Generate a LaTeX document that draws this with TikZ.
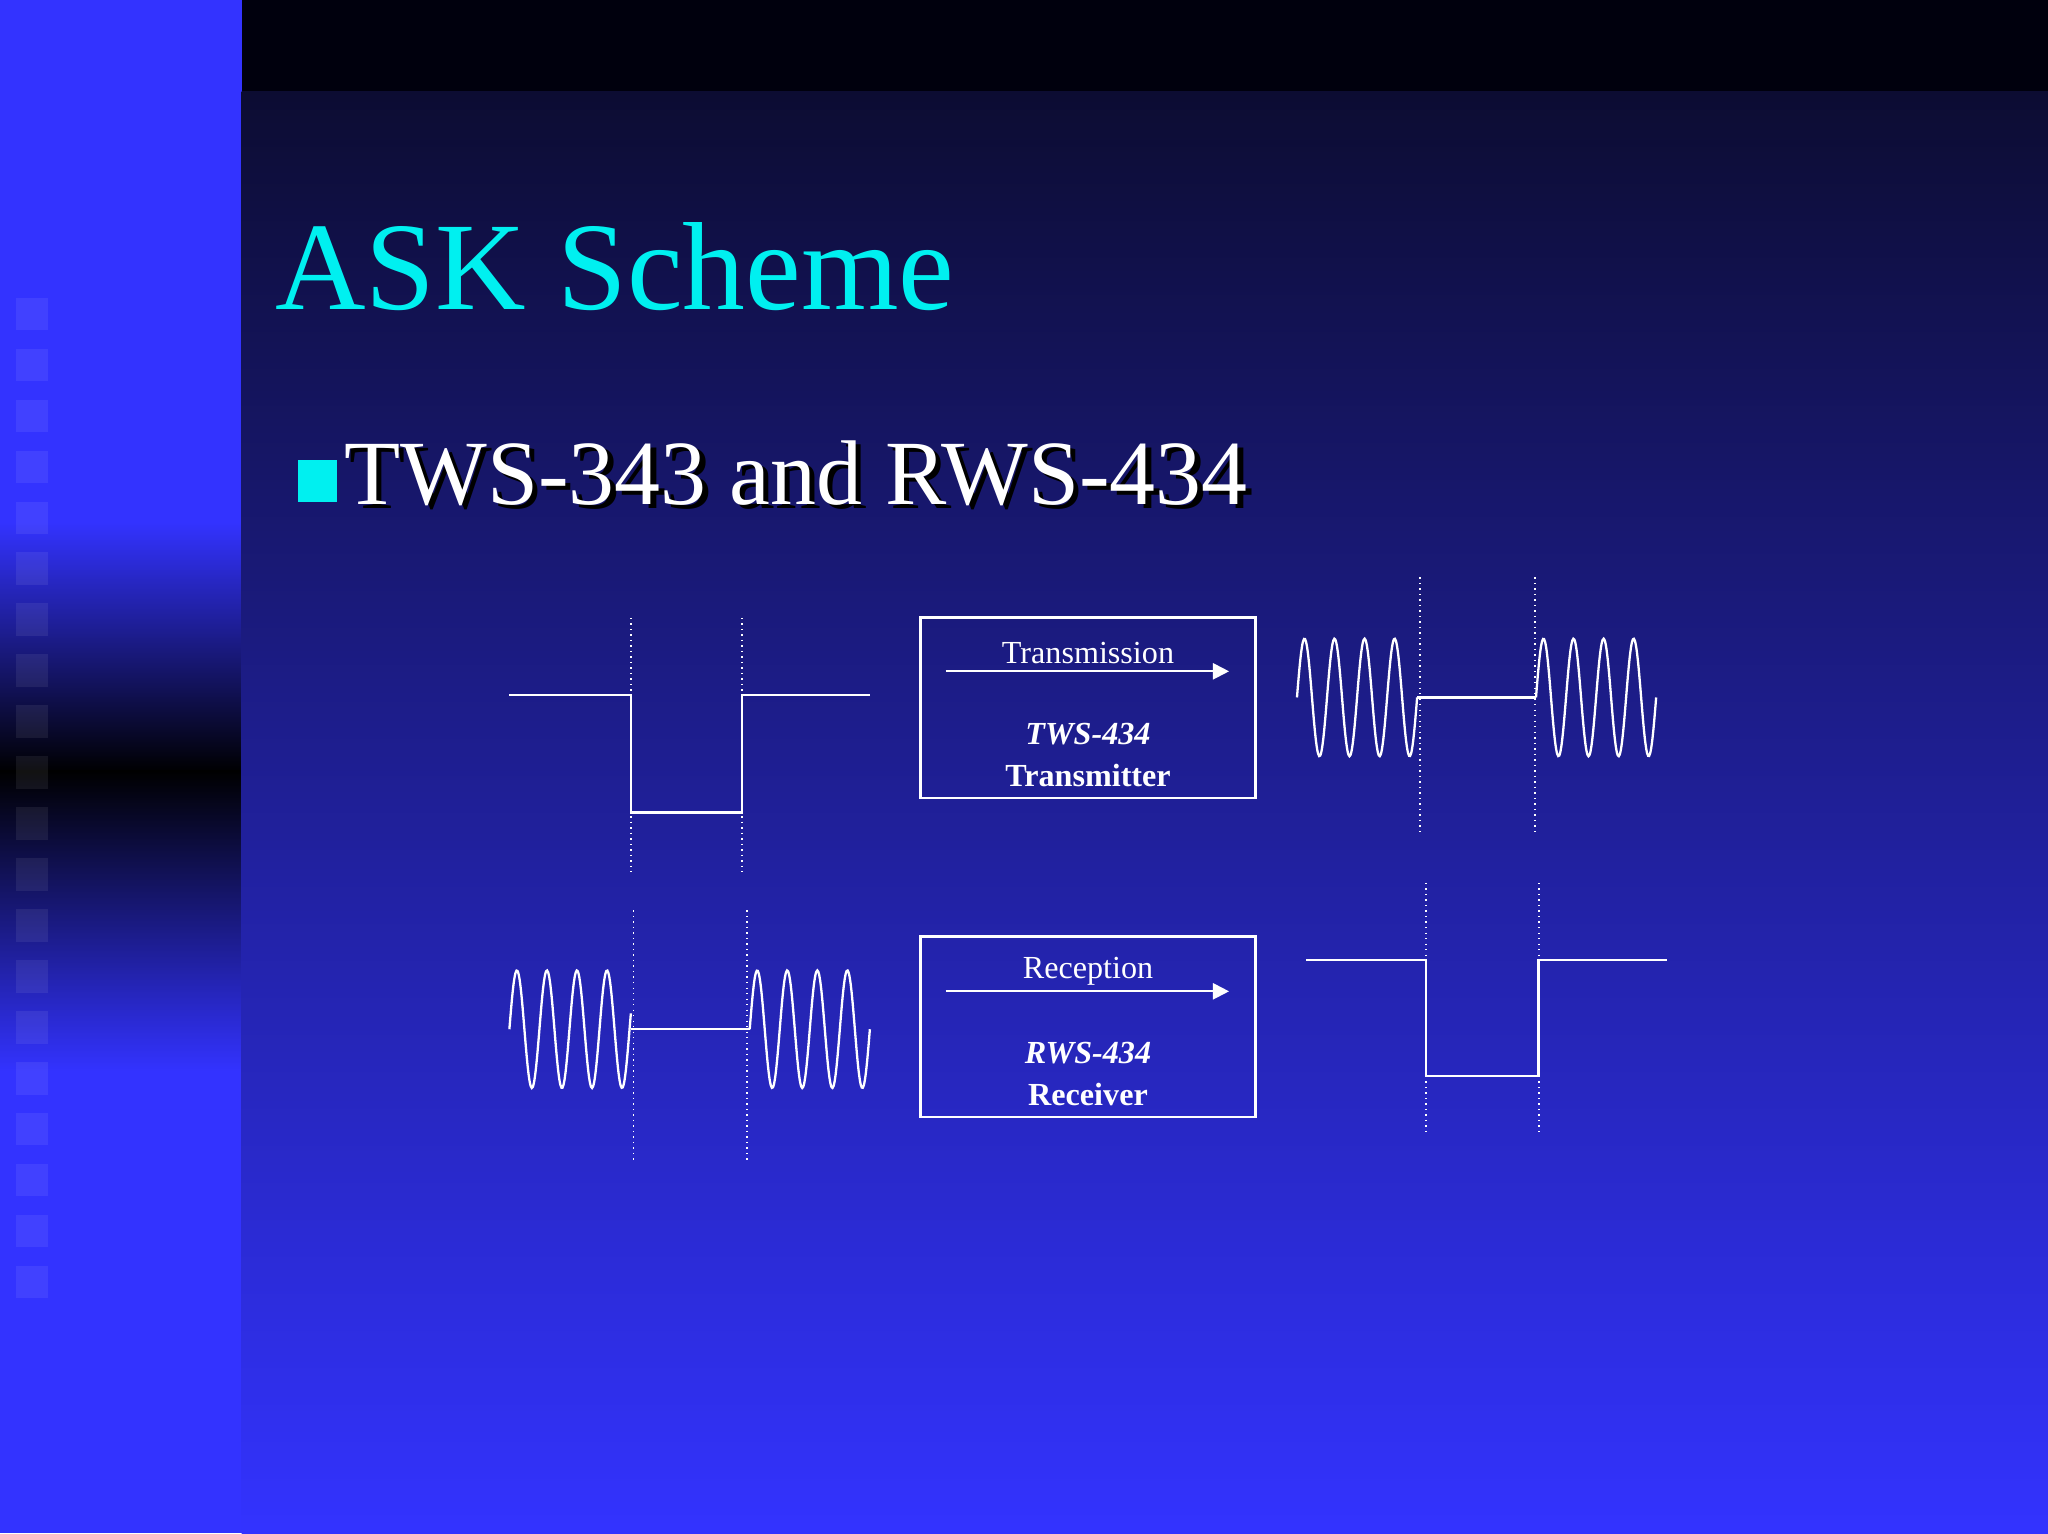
\documentclass[tikz,border=0pt]{standalone}
\usepackage{fontspec}
\setmainfont{Liberation Serif}
\usetikzlibrary{arrows.meta}
\definecolor{bb}{RGB}{51,51,255}
\definecolor{nv}{RGB}{12,12,50}
\definecolor{cy}{RGB}{0,240,240}
\tikzset{wave/.style={white,line width=0.5pt},
 dot/.style={white,dash pattern=on 0.3pt off 0.9pt,line width=0.4pt},
 box/.style={draw=white,line width=0.55pt,minimum width=2.56cm,minimum height=1.38cm,inner sep=0pt},
 lbl/.style={text=white,font=\fontsize{7pt}{8pt}\selectfont}}
\begin{document}
\begin{tikzpicture}[x=0.01cm,y=-0.01cm]
\useasboundingbox (0,0) rectangle (1568,1174);
% backgrounds
\fill[bb] (0,0) rectangle (185,1174);
\shade[top color=bb,bottom color=black] (0,400) rectangle (185,592);
\shade[top color=black,bottom color=bb] (0,590) rectangle (185,820);
\foreach \i in {0,...,19}{\fill[white,opacity=0.07] (12,{228+39*\i}) rectangle (37,{253+39*\i});}
\fill[black!95!blue] (185,0) rectangle (1568,72);
\shade[top color=nv,bottom color=bb] (185,70) rectangle (1568,1174);
% title
\node[anchor=base west,text=cy,font=\fontsize{27.3pt}{30pt}\selectfont,inner sep=0] (title) at (210,237) {ASK Scheme};
\fill[cy] (228,352) rectangle (258,384);
\node[anchor=base west,text=black,font=\fontsize{20pt}{24pt}\selectfont,inner sep=0] (shadow) at (267,389) {TWS-343 and RWS-434};
\node[anchor=base west,text=white,font=\fontsize{20pt}{24pt}\selectfont,inner sep=0] (sub) at (263,386) {TWS-343 and RWS-434};
% top left square wave
\draw[dot] (483,473) -- (483,668) (568,473) -- (568,668);
\draw[wave] (390,532) -- (483,532) -- (483,622) -- (568,622) -- (568,532) -- (666,532);
% box 1
\node[box] (b1) at (833,542) {};
\node[lbl] (t1) at (833,500) {Transmission};
\coordinate (a1) at (724,514); \coordinate (a2) at (941,514);
\draw[white,line width=0.45pt,-{Triangle[length=3.5pt,width=3.5pt]}] (a1) -- (a2);
\node[lbl,font=\fontsize{7pt}{8pt}\selectfont\bfseries\itshape] (n1) at (833,562) {TWS-434};
\node[lbl,font=\fontsize{7pt}{8pt}\selectfont\bfseries] (m1) at (833,594) {Transmitter};
% top right ask
\draw[dot] (1087,442) -- (1087,637) (1175,442) -- (1175,637);
\draw[wave,domain=0:92,samples=120,smooth] plot ({993+\x},{534-45*sin(15.652*\x)});
\draw[wave] (1085,534) -- (1176,534);
\draw[wave,domain=0:92,samples=120,smooth] plot ({1176+\x},{534-45*sin(15.652*\x)});
% bottom left ask
\draw[dot] (485,697) -- (485,890) (572,697) -- (572,890);
\draw[wave,domain=0:93,samples=120,smooth] plot ({390+\x},{788-45*sin(15.652*\x)});
\draw[wave] (483,788) -- (574,788);
\draw[wave,domain=0:92,samples=120,smooth] plot ({574+\x},{788-45*sin(15.652*\x)});
% box 2
\node[box] (b2) at (833,786) {};
\node[lbl] (t2) at (833,744) {Reception};
\coordinate (c1) at (724,759); \coordinate (c2) at (941,759);
\draw[white,line width=0.45pt,-{Triangle[length=3.5pt,width=3.5pt]}] (c1) -- (c2);
\node[lbl,font=\fontsize{7pt}{8pt}\selectfont\bfseries\itshape] (n2) at (833,806) {RWS-434};
\node[lbl,font=\fontsize{7pt}{8pt}\selectfont\bfseries] (m2) at (833,838) {Receiver};
% bottom right square
\draw[dot] (1092,676) -- (1092,870) (1178,676) -- (1178,870);
\draw[wave] (1000,735) -- (1092,735) -- (1092,824) -- (1178,824) -- (1178,735) -- (1276,735);
\end{tikzpicture}
\end{document}
